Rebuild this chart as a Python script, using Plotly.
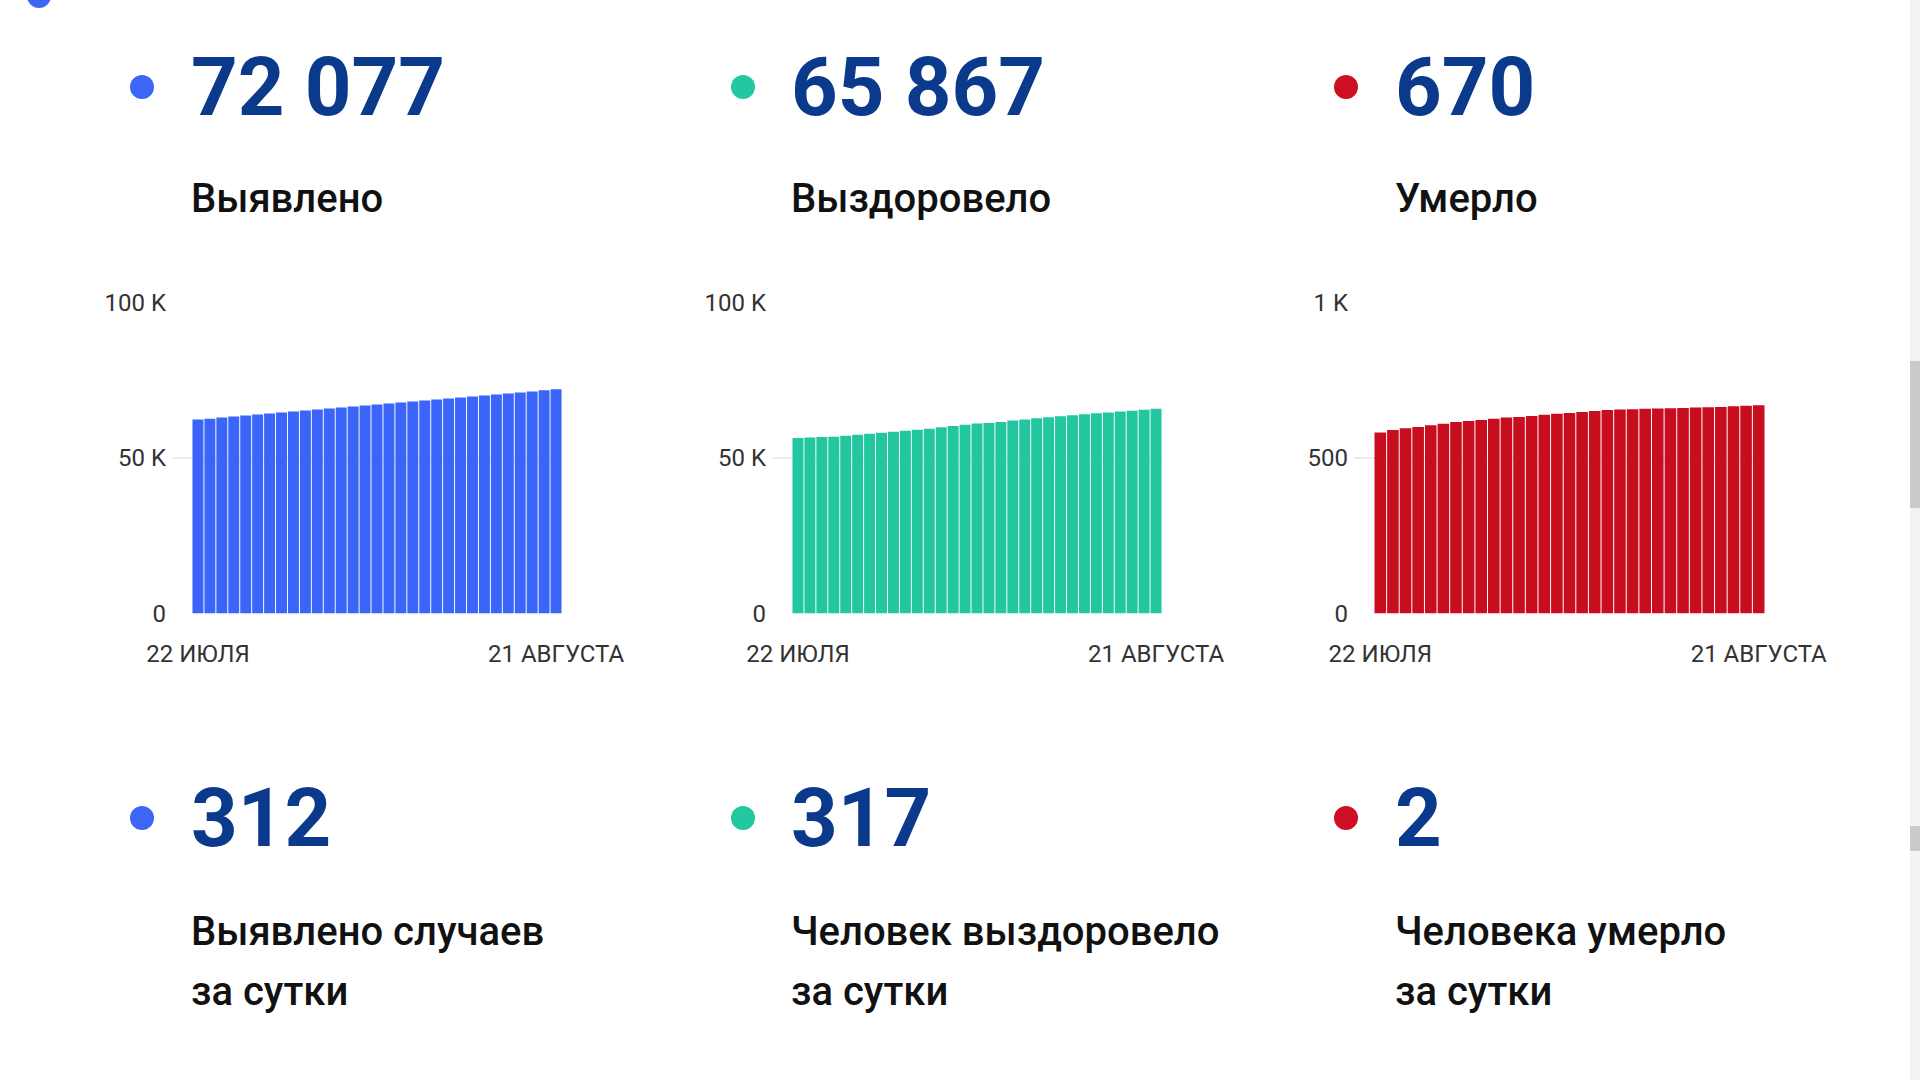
import plotly.graph_objects as go

# ---------------- data ----------------
days = ["22.07", "23.07", "24.07", "25.07", "26.07", "27.07", "28.07", "29.07", "30.07", "31.07",
        "01.08", "02.08", "03.08", "04.08", "05.08", "06.08", "07.08", "08.08", "09.08", "10.08",
        "11.08", "12.08", "13.08", "14.08", "15.08", "16.08", "17.08", "18.08", "19.08", "20.08",
        "21.08"]
first_label = "22 ИЮЛЯ"
last_label = "21 АВГУСТА"

detected = [62340, 62660, 62985, 63310, 63635, 63960, 64280, 64600, 64920, 65245,
            65570, 65895, 66220, 66545, 66870, 67195, 67520, 67845, 68170, 68495,
            68820, 69145, 69470, 69795, 70120, 70445, 70770, 71095, 71420, 71765,
            72077]
recovered = [56400, 56620, 56730, 56830, 57160, 57480, 57810, 58130, 58460, 58780,
             59110, 59430, 59870, 60300, 60730, 61060, 61270, 61600, 62030, 62360,
             62790, 63120, 63440, 63770, 64090, 64420, 64630, 64960, 65230, 65550,
             65867]
deaths = [582, 590, 596, 600, 605, 610, 616, 619, 622, 626,
          630, 632, 635, 639, 642, 645, 648, 651, 654, 656,
          657, 658, 659, 660, 661, 662, 663, 664, 666, 668,
          670]

totals = ["72 077", "65 867", "670"]
total_labels = ["Выявлено", "Выздоровело", "Умерло"]
daily = ["312", "317", "2"]
daily_labels_1 = ["Выявлено случаев", "Человек выздоровело", "Человека умерло"]
daily_labels_2 = ["за сутки", "за сутки", "за сутки"]

yticks_k = [0, 50000, 100000]
yticks_k_text = ["0", "50 K", "100 K"]
yticks_d = [0, 500, 1000]
yticks_d_text = ["0", "500", "1 K"]

# ---------------- style ----------------
W, H = 1920, 1080
bar_colors = ["#3b64f8", "#22c7a0", "#c80d1f"]
dot_colors = ["#3d65f6", "#23c8a1", "#cc0f22"]
num_color = "#0b3a8c"
text_color = "#111111"
tick_color = "#333333"
grid_color = "#ececec"
FONT = "Roboto, 'Open Sans', sans-serif"


def pxx(x):
    return x / W


def pyy(y):
    return 1 - y / H


# column geometry (pixels)
col_dot_x = [142, 743, 1346]
col_text_x = [189, 789, 1393]
bar_start = [192, 792, 1374]
bar_end = [562, 1162, 1765]
grid_extra = 20
axis_bottom = 613.5
axis_top = 302.5

series = [detected, recovered, deaths]
ytv = [yticks_k, yticks_k, yticks_d]
ytt = [yticks_k_text, yticks_k_text, yticks_d_text]

fig = go.Figure()
layout_axes = {}
n = len(days)
for i in range(3):
    xa = "x" if i == 0 else f"x{i+1}"
    ya = "y" if i == 0 else f"y{i+1}"
    fig.add_trace(go.Bar(
        x=days, y=series[i], marker=dict(color=bar_colors[i], line=dict(width=0)),
        xaxis=xa, yaxis=ya, showlegend=False, hoverinfo="x+y",
    ))
    unit = (bar_end[i] - bar_start[i]) / n
    extra = grid_extra / unit
    x0 = bar_start[i] - grid_extra
    layout_axes["xaxis" if i == 0 else f"xaxis{i+1}"] = dict(
        domain=[pxx(x0), pxx(bar_end[i])], anchor=ya, type="category",
        range=[-0.5 - extra, n - 0.5], tickmode="array",
        tickvals=[days[0], days[-1]], ticktext=[first_label, last_label],
        ticks="outside", ticklen=19, tickcolor="rgba(0,0,0,0)",
        showgrid=False, showline=False, zeroline=False, fixedrange=True,
        automargin=False,
        tickfont=dict(family=FONT, size=24, color=tick_color),
    )
    layout_axes["yaxis" if i == 0 else f"yaxis{i+1}"] = dict(
        domain=[pyy(axis_bottom), pyy(axis_top)], anchor=xa,
        range=[0, ytv[i][-1]], tickmode="array", tickvals=ytv[i], ticktext=ytt[i],
        ticks="", ticklabelstandoff=5,
        showgrid=True, gridcolor=grid_color, gridwidth=2, zeroline=False,
        showline=False, fixedrange=True, automargin=False,
        tickfont=dict(family=FONT, size=24, color=tick_color),
    )

annotations = []
shapes = []
r = 12


def add_text(x, y, text, size, color, weight):
    annotations.append(dict(
        x=pxx(x), y=pyy(y), xref="paper", yref="paper",
        xanchor="left", yanchor="middle", showarrow=False, text=text, align="left",
        font=dict(family=FONT, size=size, color=color, weight=weight),
    ))


def add_dot(x, y, color):
    shapes.append(dict(
        type="circle", xref="paper", yref="paper",
        x0=pxx(x - r), x1=pxx(x + r), y0=pyy(y + r), y1=pyy(y - r),
        fillcolor=color, line=dict(width=0),
    ))


for i in range(3):
    # totals row
    add_dot(col_dot_x[i], 87, dot_colors[i])
    add_text(col_text_x[i], 87, totals[i], 81.5, num_color, 700)
    add_text(col_text_x[i], 198, total_labels[i], 40, text_color, 500)
    # daily row
    add_dot(col_dot_x[i], 818, dot_colors[i])
    add_text(col_text_x[i], 818, daily[i], 81.5, num_color, 700)
    add_text(col_text_x[i], 931, daily_labels_1[i], 40, text_color, 500)
    add_text(col_text_x[i], 991, daily_labels_2[i], 40, text_color, 500)

# partial dot at the top-left edge
shapes.append(dict(type="circle", xref="paper", yref="paper",
                   x0=pxx(27), x1=pxx(51), y0=pyy(8), y1=pyy(-16),
                   fillcolor=dot_colors[0], line=dict(width=0)))
# scrollbar strip at the right edge
shapes.append(dict(type="rect", xref="paper", yref="paper",
                   x0=pxx(1910), x1=1, y0=0, y1=1, fillcolor="#f3f3f3", line=dict(width=0)))
shapes.append(dict(type="rect", xref="paper", yref="paper",
                   x0=pxx(1910), x1=1, y0=pyy(508), y1=pyy(361), fillcolor="#cacacd", line=dict(width=0)))
shapes.append(dict(type="rect", xref="paper", yref="paper",
                   x0=pxx(1910), x1=1, y0=pyy(851), y1=pyy(826), fillcolor="#cacacd", line=dict(width=0)))

fig.update_layout(
    width=W, height=H, margin=dict(l=0, r=0, t=0, b=0, autoexpand=False),
    paper_bgcolor="white", plot_bgcolor="white",
    bargap=0.08, annotations=annotations, shapes=shapes,
    font=dict(family=FONT), **layout_axes,
)

fig.write_html("out.html")
